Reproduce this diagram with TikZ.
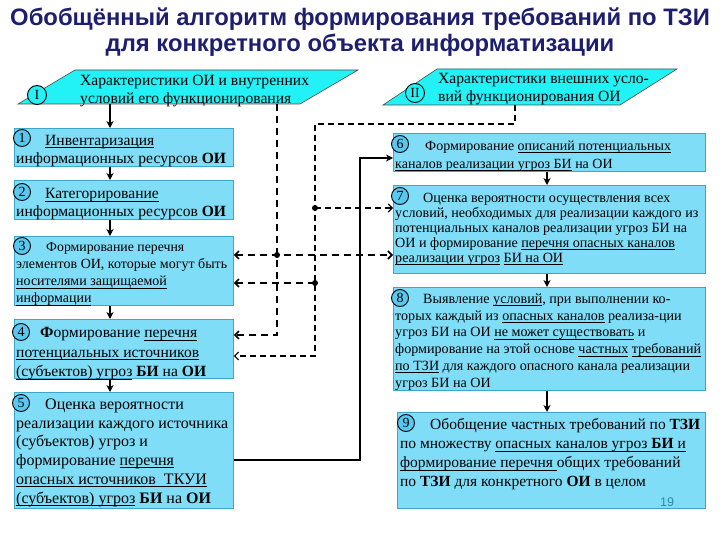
\documentclass[tikz,border=0pt]{standalone}
\usepackage{fontspec}
\setmainfont{Liberation Serif}
\newfontfamily\titlefont{Liberation Sans}
\usetikzlibrary{arrows.meta}
\definecolor{boxfill}{HTML}{80DDF7}
\definecolor{boxline}{HTML}{3AA8C8}
\definecolor{parafill}{HTML}{22F2F5}
\definecolor{circfill}{HTML}{58C8F0}
\definecolor{titleblue}{HTML}{1E1E70}
\definecolor{pagenum}{HTML}{2A8CA8}
\newcommand{\uln}[1]{\setbox0\hbox{#1}\rlap{\rule[-2.6pt]{\wd0}{0.8pt}}\box0\relax}
\newcommand{\fs}[2]{\fontsize{#1}{#2}\selectfont}
\begin{document}
\begin{tikzpicture}[x=1pt,y=-1pt,
  box/.style={draw=boxline, fill=boxfill, line width=0.8pt, inner sep=0pt, anchor=north west},
  txt/.style={anchor=north west, inner sep=0pt, align=left},
  num/.style={circle, draw=black, fill=circfill, line width=0.9pt, inner sep=0pt, minimum size=17pt, font=\fs{14}{14}},
  rnum/.style={circle, draw=black, fill=parafill, line width=0.9pt, inner sep=0pt, minimum size=19pt, font=\fs{14}{14}},
  para/.style={draw=black!70, fill=parafill, line width=0.6pt},
  flow/.style={line width=1.4pt, -{Stealth[length=7pt,width=7pt]}},
  dashA/.style={line width=1.6pt, dash pattern=on 7pt off 5pt},
  dashB/.style={line width=1.1pt, dash pattern=on 6pt off 4pt},
  tipA/.style={-{Straight Barb[length=4pt,width=8pt]}},
  tipAB/.style={{Straight Barb[length=4pt,width=8pt]}-{Straight Barb[length=4pt,width=8pt]}},
  dot/.style={circle, fill=black, inner sep=0pt, minimum size=6pt},
]
\useasboundingbox (0,0) rectangle (720,540);
\fill[white] (0,0) rectangle (720,540);

% title
\node[font=\titlefont\bfseries\fs{23.8}{25.5}, text=titleblue, align=center, anchor=north] (title) at (360,4.5)
  {Обобщённый алгоритм формирования требований по ТЗИ\\для конкретного объекта информатизации};

% parallelograms
\coordinate (pIa) at (18,104); \coordinate (pIb) at (75,70);
\coordinate (pIc) at (358,70); \coordinate (pId) at (300,104);
\draw[para] (pIa) -- (pIb) -- (pIc) -- (pId) -- cycle;
\coordinate (pIIa) at (383,105); \coordinate (pIIb) at (437,69);
\coordinate (pIIc) at (677,69); \coordinate (pIId) at (620,105);
\draw[para] (pIIa) -- (pIIb) -- (pIIc) -- (pIId) -- cycle;

% boxes
\node[box, minimum width=219pt, minimum height=38pt] (b1) at (14,128) {};
\node[box, minimum width=219pt, minimum height=39pt] (b2) at (14,180) {};
\node[box, minimum width=219pt, minimum height=69pt] (b3) at (14,236) {};
\node[box, minimum width=219pt, minimum height=59pt] (b4) at (14,319) {};
\node[box, minimum width=219pt, minimum height=116pt] (b5) at (14,392) {};
\node[box, minimum width=312pt, minimum height=38pt] (b6) at (393,133) {};
\node[box, minimum width=312pt, minimum height=88pt] (b7) at (393,185) {};
\node[box, minimum width=312pt, minimum height=103pt] (b8) at (393,287) {};
\node[box, minimum width=308pt, minimum height=96pt] (b9) at (397,412) {};

% flow arrows
\coordinate (colL) at (110,0);
\coordinate (colR) at (547,0);
\draw[flow] (pIa -| colL) -- (b1.north -| colL);
\draw[flow] (b1.south -| colL) -- (b2.north -| colL);
\draw[flow] (b2.south -| colL) -- (b3.north -| colL);
\draw[flow] (b3.south -| colL) -- (b4.north -| colL);
\draw[flow] (b4.south -| colL) -- (b5.north -| colL);
\draw[flow] (b6.south -| colR) -- (b7.north -| colR);
\draw[flow] (b7.south -| colR) -- (b8.north -| colR);
\draw[flow] (b8.south -| colR) -- (b9.north -| colR);

% dashed connectors from I
\coordinate (cI1) at (277,104);
\coordinate (cI2) at (277,335);
\coordinate (jI) at (277,255);
\draw[dashA, tipA] (cI1) -- (cI2) -- (cI2 -| b4.east);
\draw[dashA, tipAB] (jI -| b3.east) -- (jI -| b7.west);

% dashed connectors from II
\coordinate (cII1) at (515,105);
\coordinate (cII2) at (515,124);
\coordinate (cII3) at (315,124);
\coordinate (cII4) at (315,356);
\coordinate (jII1) at (315,208);
\coordinate (jII2) at (315,283);
\draw[dashB, tipA] (cII1) -- (cII2) -- (cII3) -- (cII4) -- (cII4 -| b4.east);
\draw[dashB, tipA] (jII1) -- (jII1 -| b7.west);
\draw[dashA, tipA] (jII2) -- (jII2 -| b3.east);
\node[dot] (dI) at (jI) {};
\node[dot] (dII1) at (jII1) {};
\node[dot] (dII2) at (jII2) {};

% solid connector 5 -> 6
\coordinate (sA) at (360,460);
\coordinate (sB) at (360,158);
\draw[line width=1.6pt, -{Stealth[length=7pt,width=7pt]}] (sA -| b5.east) -- (sA) -- (sB) -- (sB -| b6.west);

% parallelogram texts
\node[rnum] (nI) at (37,95) {I};
\node[txt, font=\fs{15.6}{18}] (tI) at (80,74.5) {Характеристики ОИ и внутренних\\условий его функционирования};
\node[rnum] (nII) at (415,93) {II};
\node[txt, font=\fs{15.6}{18}] (tII) at (438,73.5) {Характеристики внешних усло-\\вий функционирования ОИ};

% number circles
\node[num] (c1) at (22,138) {1};
\node[num] (c2) at (22,192) {2};
\node[num] (c3) at (22,246) {3};
\node[num] (c4) at (21,332) {4};
\node[num] (c5) at (21,403) {5};
\node[num] (c6) at (400,144) {6};
\node[num] (c7) at (400,196) {7};
\node[num] (c8) at (400,298) {8};
\node[num] (c9) at (406,423) {9};

% box texts
\node[txt, font=\fs{15.6}{18}] (t1) at (16,135) {\hspace*{29pt}\uln{Инвентаризация}\\информационных ресурсов \textbf{ОИ}};
\node[txt, font=\fs{15.6}{18}] (t2) at (16,188.5) {\hspace*{29pt}\uln{Категорирование}\\информационных ресурсов \textbf{ОИ}};
\node[txt, font=\fs{14}{17}] (t3) at (16,242.5) {\hspace*{30pt}{\fs{13.8}{17}Формирование перечня}\\элементов ОИ, которые могут быть\\\uln{носителями защищаемой}\\\uln{информации}};
\node[txt, font=\fs{15.6}{19.5}] (t4) at (16,327.5) {\hspace*{24pt}\textbf{Ф}ормирование \uln{перечня}\\\uln{потенциальных источников}\\\uln{(субъектов) угроз} \textbf{БИ} на \textbf{ОИ}};
\node[txt, font=\fs{16}{18.8}] (t5) at (16,398.5) {\hspace*{29pt}Оценка вероятности\\реализации каждого источника\\(субъектов) угроз и\\формирование \uln{перечня}\\\uln{опасных источников\ \ ТКУИ}\\\uln{(субъектов) угроз} \textbf{БИ} на \textbf{ОИ}};
\node[txt, font=\fs{14}{18}] (t6) at (395,140.5) {\hspace*{30pt}Формирование \uln{описаний потенциальных}\\\uln{каналов реализации угроз БИ} на ОИ};
\node[txt, font=\fs{14.1}{15}] (t7) at (395,192.5) {\hspace*{28pt}Оценка вероятности осуществления всех\\условий, необходимых для реализации каждого из\\потенциальных каналов реализации угроз БИ на\\ОИ и формирование \uln{перечня опасных каналов}\\\uln{реализации угроз} \uln{БИ на ОИ}};
\node[txt, font=\fs{14.1}{16.8}] (t8) at (395,293.5) {\hspace*{28pt}Выявление \uln{условий}, при выполнении ко-\\торых каждый из \uln{опасных каналов} реализа-ции\\угроз БИ на ОИ \uln{не может существовать} и\\формирование на этой основе \uln{частных} \uln{требований}\\\uln{по ТЗИ} для каждого опасного канала реализации\\угроз БИ на ОИ};
\node[txt, font=\fs{15.5}{19}] (t9) at (400,418.5) {\hspace*{30pt}Обобщение частных требований по \textbf{ТЗИ}\\по множеству \uln{опасных каналов угроз \textbf{БИ} и}\\\uln{формирование перечня }общих требований\\по \textbf{ТЗИ} для конкретного \textbf{ОИ} в целом};
\node[font=\titlefont\fs{12.5}{12.5}, text=pagenum] (pg) at (667,502) {19};
\end{tikzpicture}
\end{document}
